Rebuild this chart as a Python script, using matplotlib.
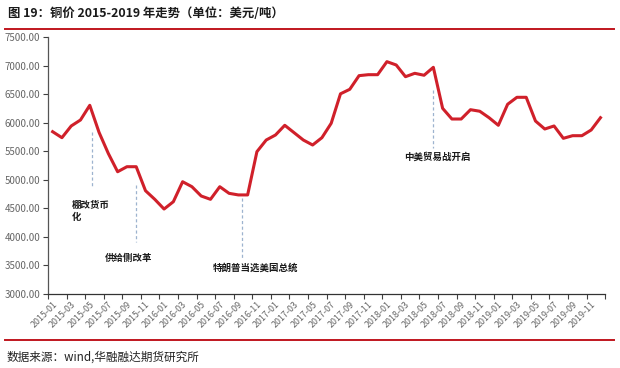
import numpy as np
import matplotlib
matplotlib.use("Agg")
import matplotlib.pyplot as plt
from matplotlib.lines import Line2D

plt.rcParams['font.family'] = ['Noto Sans CJK SC', 'DejaVu Sans']

# monthly copper price, 2015-01 .. 2019-12 (USD/t)
months = [f"{y}-{m:02d}" for y in range(2015, 2020) for m in range(1, 13)]
price = [5842, 5737, 5942, 6047, 6304, 5830, 5460, 5141, 5229, 5229, 4809, 4658,
         4488, 4616, 4966, 4879, 4716, 4658, 4879, 4763, 4735, 4735, 5492, 5696,
         5784, 5954, 5825, 5696, 5609, 5737, 5989, 6505, 6584, 6823, 6840, 6840,
         7068, 7010, 6805, 6864, 6830, 6969, 6251, 6064, 6064, 6227, 6200, 6087,
         5954, 6322, 6444, 6444, 6029, 5889, 5942, 5726, 5772, 5772, 5872, 6087]

yticks = [3000, 3500, 4000, 4500, 5000, 5500, 6000, 6500, 7000, 7500]

# events: (dashed line x, line top, line bottom, text x, text y, text)
events_x = [4.2, 9.0, 20.4, 41.0]
events_top = [5842, 4909, 4676, 6572]
events_bot = [4851, 3916, 3625, 5551]
events_tx = [2.1, 5.65, 17.3, 37.9]
events_ty = [4650, 3630, 3455, 5399]
events_txt = ["棚改货币\n化", "供给侧改革", "特朗普当选美国总统", "中美贸易战开启"]

fig = plt.figure(figsize=(6.2, 3.68), dpi=100)
ax = fig.add_axes([0.0774, 0.201, 0.8986, 0.6985])

x = np.arange(len(price))
ax.plot(x, price, color="#d0202a", lw=2.2, solid_joinstyle="round")

for i in range(len(events_x)):
    ax.plot([events_x[i], events_x[i]], [events_top[i], events_bot[i]],
            color="#9db3cf", lw=0.9, ls=(0, (2.5, 2)))
    va = "top" if i == 0 else "center"
    ax.text(events_tx[i], events_ty[i], events_txt[i], fontsize=6.8,
            fontweight="bold", color="#1a1a1a", ha="left", va=va, linespacing=1.25)

ax.set_xlim(-0.5, len(price) - 0.5)
ax.set_ylim(3000, 7500)
ax.set_yticks(yticks)
ax.set_yticklabels([f"{v:.2f}" for v in yticks], fontsize=7, color="#666666")

# ticks between categories, labels every second month
ax.set_xticks(np.arange(-0.5, len(price), 2))
ax.set_xticklabels([])
ax.set_xticks(np.arange(0, len(price), 2), minor=True)
ax.set_xticklabels(months[::2], minor=True, rotation=45, ha="right",
                   rotation_mode="anchor", fontsize=6.4, color="#666666")
ax.tick_params(axis="x", which="minor", length=0, pad=4)
ax.tick_params(axis="x", which="major", length=3.5, width=0.8, color="#404040")
ax.tick_params(axis="y", length=3.5, width=0.8, color="#404040", pad=2)

for s in ["top", "right"]:
    ax.spines[s].set_visible(False)
ax.spines["left"].set_color("#555555")
ax.spines["bottom"].set_color("#333333")
ax.spines["left"].set_linewidth(0.9)
ax.spines["bottom"].set_linewidth(0.9)

fig.text(0.013, 0.963, "图 19：铜价 2015-2019 年走势（单位：美元/吨）",
         fontsize=8.9, fontweight="bold", color="#1a1a1a", va="center")
fig.add_artist(Line2D([0.008, 0.99], [0.921, 0.921], color="#c0161e", lw=1.4,
                      transform=fig.transFigure))
fig.add_artist(Line2D([0.008, 0.99], [0.076, 0.076], color="#c0161e", lw=1.4,
                      transform=fig.transFigure))
fig.text(0.011, 0.03, "数据来源：wind,华融融达期货研究所",
         fontsize=8.4, color="#222222", va="center")

fig.savefig("out.png", dpi=100)
